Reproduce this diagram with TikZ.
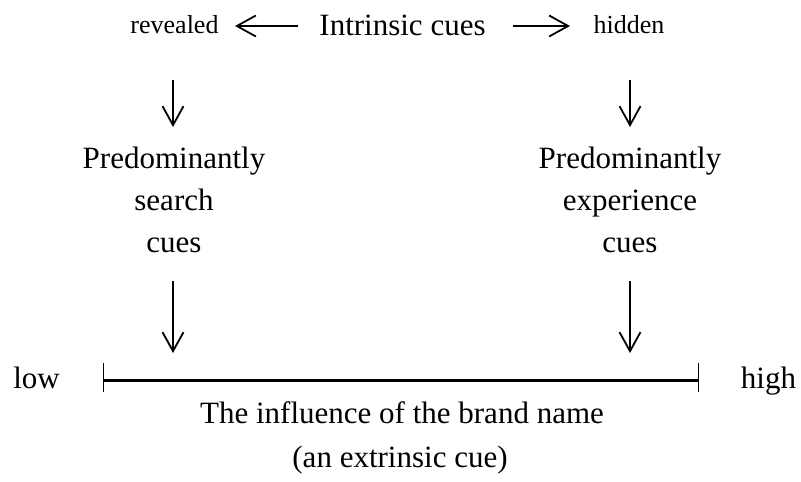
\documentclass[tikz,border=0pt]{standalone}
\usepackage{fontspec}
\setmainfont{Liberation Serif}
\usetikzlibrary{arrows.meta}
\begin{document}
\begin{tikzpicture}[x=1pt,y=-1pt,
  big/.style={font=\fontsize{31}{42}\selectfont, inner sep=0pt, anchor=base},
  small/.style={font=\fontsize{26}{30}\selectfont, inner sep=0pt, anchor=base},
  cuearrow/.style={line width=1.8pt, -{Straight Barb[length=19pt,width=21pt,line width=1.8pt]}},
  tick/.style={line width=0.9pt}]
\useasboundingbox (0,0) rectangle (801,482);
% top row: intrinsic cues split into revealed / hidden
\node[big] (intr) at (402.5,35) {Intrinsic cues};
\node[small] (rev) at (174.5,33) {revealed};
\node[small] (hid) at (629,33) {hidden};
\coordinate (revL) at (298,26);
\coordinate (revT) at (235,26);
\coordinate (hidL) at (513,26);
\coordinate (hidT) at (570,26);
\draw[cuearrow] (revL) -- (revT);
\draw[cuearrow] (hidL) -- (hidT);
% cue categories
\node[big] (s1) at (174,168) {Predominantly};
\node[big] (s2) at (174,210) {search};
\node[big] (s3) at (174,252) {cues};
\node[big] (e1) at (630,168) {Predominantly};
\node[big] (e2) at (630,210) {experience};
\node[big] (e3) at (630,252) {cues};
\coordinate (sA) at (173,80);  \coordinate (sB) at (173,127);
\coordinate (eA) at (630,80);  \coordinate (eB) at (630,127);
\coordinate (sC) at (173,281); \coordinate (sD) at (173,353);
\coordinate (eC) at (630,281); \coordinate (eD) at (630,353);
\draw[cuearrow] (sA) -- (sB);
\draw[cuearrow] (eA) -- (eB);
\draw[cuearrow] (sC) -- (sD);
\draw[cuearrow] (eC) -- (eD);
% scale of brand-name influence
\coordinate (lt) at (103,380);
\coordinate (rt) at (698,380);
\draw[line width=3pt] (lt) -- (rt);
\draw[tick] ([yshift=-12pt]lt) -- ([yshift=17pt]lt);
\draw[tick] ([yshift=-12pt]rt) -- ([yshift=17pt]rt);
\node[big] (low) at (36.5,388) {low};
\node[big] (high) at (768.5,388) {high};
\node[big] (infl1) at (402,423) {The influence of the brand name};
\node[big] (infl2) at (400,467) {(an extrinsic cue)};
\end{tikzpicture}
\end{document}
